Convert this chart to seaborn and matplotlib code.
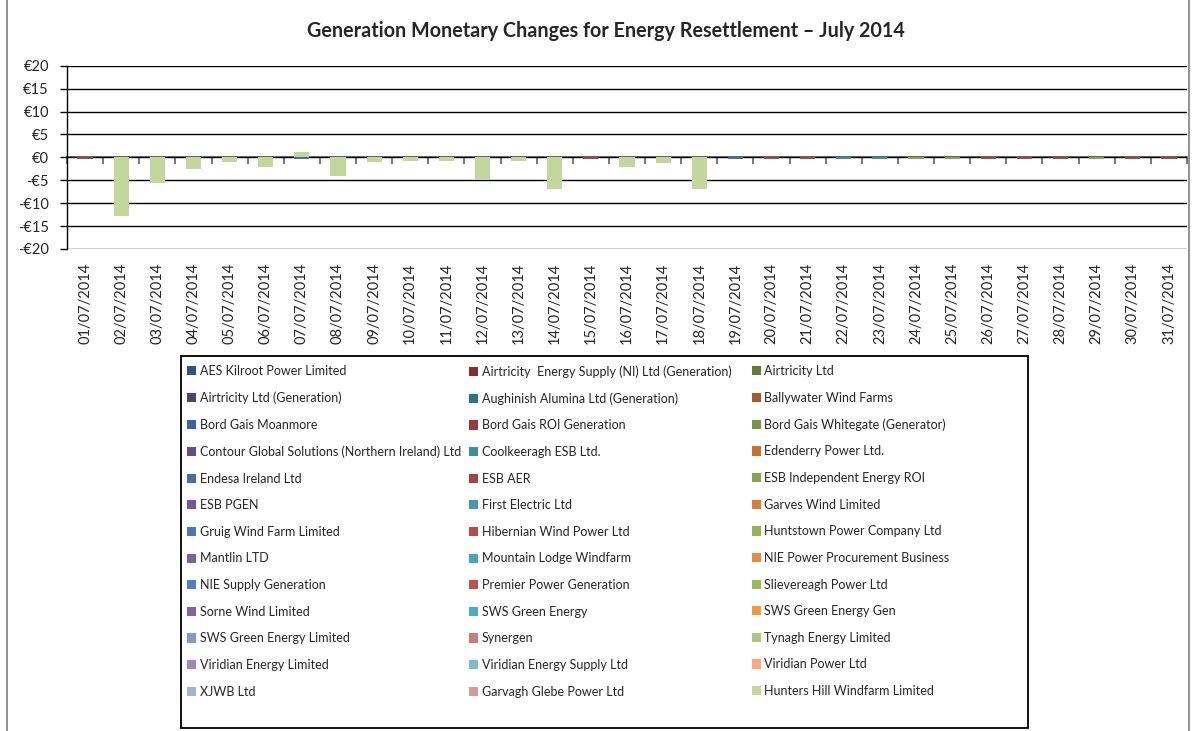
import matplotlib
matplotlib.use('Agg')
import matplotlib.pyplot as plt
import matplotlib.patches as mpatches
import seaborn as sns
import pandas as pd

# =====================================
# データ
# =====================================
dates = ['01/07/2014', '02/07/2014', '03/07/2014', '04/07/2014', '05/07/2014',
         '06/07/2014', '07/07/2014', '08/07/2014', '09/07/2014', '10/07/2014',
         '11/07/2014', '12/07/2014', '13/07/2014', '14/07/2014', '15/07/2014',
         '16/07/2014', '17/07/2014', '18/07/2014', '19/07/2014', '20/07/2014',
         '21/07/2014', '22/07/2014', '23/07/2014', '24/07/2014', '25/07/2014',
         '26/07/2014', '27/07/2014', '28/07/2014', '29/07/2014', '30/07/2014',
         '31/07/2014']

# 凡例の並び (行ごと, 3列)
companies = [
    'AES Kilroot Power Limited', 'Airtricity  Energy Supply (NI) Ltd (Generation)', 'Airtricity Ltd',
    'Airtricity Ltd (Generation)', 'Aughinish Alumina Ltd (Generation)', 'Ballywater Wind Farms',
    'Bord Gais Moanmore', 'Bord Gais ROI Generation', 'Bord Gais Whitegate (Generator)',
    'Contour Global Solutions (Northern Ireland) Ltd', 'Coolkeeragh ESB Ltd.', 'Edenderry Power Ltd.',
    'Endesa Ireland Ltd', 'ESB AER', 'ESB Independent Energy ROI',
    'ESB PGEN', 'First Electric Ltd', 'Garves Wind Limited',
    'Gruig Wind Farm Limited', 'Hibernian Wind Power Ltd', 'Huntstown Power Company Ltd',
    'Mantlin LTD', 'Mountain Lodge Windfarm', 'NIE Power Procurement Business',
    'NIE Supply Generation', 'Premier Power Generation', 'Slievereagh Power Ltd',
    'Sorne Wind Limited', 'SWS Green Energy', 'SWS Green Energy Gen',
    'SWS Green Energy Limited', 'Synergen', 'Tynagh Energy Limited',
    'Viridian Energy Limited', 'Viridian Energy Supply Ltd', 'Viridian Power Ltd',
    'XJWB Ltd', 'Garvagh Glebe Power Ltd', 'Hunters Hill Windfarm Limited',
]
company_colors = [
    '#2E5283', '#7F3030', '#637B34',
    '#56406E', '#2D7387', '#A8592A',
    '#3C6496', '#973A39', '#799544',
    '#644E82', '#3C8FA3', '#C8702E',
    '#4470A5', '#A84440', '#85A54A',
    '#735A95', '#4398AF', '#D97E38',
    '#4A78B4', '#BB4B47', '#93B455',
    '#7B61A0', '#47A7C0', '#E88A3F',
    '#4F81BD', '#C0504D', '#9BBB59',
    '#8064A2', '#4BACC6', '#F79646',
    '#7F9BC9', '#CB7B79', '#ABC67E',
    '#9E8AB8', '#7DBCD0', '#F9A878',
    '#A1B4D6', '#D79A99', '#C3D69B',
]

# 日別の金額 (€)
hunters_hill = [0, -12.8, -5.7, -2.6, -1.1, -2.2, 1.1, -4.0, -1.1, -0.9,
                -0.9, -4.8, -0.9, -7.0, 0, -2.0, -1.2, -7.0, 0, 0,
                0, 0, 0, 0, 0, 0, 0, 0, 0, 0, 0]
esb_aer = [-0.4, 0, 0, 0, 0, 0, 0, 0, 0, 0,
           0, 0, 0, 0, -0.4, 0, 0, 0, 0, -0.4,
           -0.4, 0, 0, 0, 0, -0.4, -0.4, -0.4, 0, -0.4, -0.4]
endesa = [0, 0, 0, 0, 0, 0, -0.4, 0, 0, 0,
          0, 0, 0, 0, 0, 0, 0, 0, -0.4, 0,
          0, 0, 0, 0, 0, 0, 0, 0, 0, 0, 0]
coolkeeragh = [0, 0, 0, 0, 0, 0, 0, 0, 0, 0,
               0, 0, 0, 0, 0, 0, 0, 0, 0, 0,
               0, -0.4, -0.4, 0, 0, 0, 0, 0, 0, 0, 0]
esb_independent = [0, 0, 0, 0, 0, 0, 0, 0, 0, 0,
                   0, 0, 0, 0, 0, 0, 0, 0, 0, 0,
                   0, 0, 0, -0.4, -0.4, 0, 0, 0, -0.4, 0, 0]

yticks = [-20, -15, -10, -5, 0, 5, 10, 15, 20]
ytick_labels = ['-€20', '-€15', '-€10', '-€5', '€0', '€5', '€10', '€15', '€20']

# =====================================
# 描画
# =====================================
sns.set_theme(style='white')
plt.rcParams['font.family'] = ['Lato', 'DejaVu Sans']

W, H = 1203, 731


def fx(px):
    return px / W


def fy(py):
    return 1 - py / H


series = {
    'Hunters Hill Windfarm Limited': hunters_hill,
    'ESB AER': esb_aer,
    'Endesa Ireland Ltd': endesa,
    'Coolkeeragh ESB Ltd.': coolkeeragh,
    'ESB Independent Energy ROI': esb_independent,
}
df = pd.concat([pd.DataFrame({'date': dates, 'value': v, 'company': name})
                for name, v in series.items()], ignore_index=True)
palette = dict(zip(companies, company_colors))

fig = plt.figure(figsize=(W / 100, H / 100), dpi=100)
ax = fig.add_axes([fx(67), fy(249), fx(1187) - fx(67), fy(65.7) - fy(249)])

sns.barplot(data=df, x='date', y='value', hue='company', hue_order=companies,
            order=dates, palette=palette, dodge=False, errorbar=None,
            saturation=1, width=0.42, legend=False, linewidth=0, ax=ax)

ax.set_xlim(-0.5, len(dates) - 0.5)
ax.set_ylim(-20, 20)
ax.set_yticks(yticks, labels=ytick_labels)
ax.set_xlabel('')
ax.set_ylabel('')
ax.yaxis.grid(True, color='black', linewidth=1)
ax.set_axisbelow(True)
for s in ['top', 'right', 'bottom']:
    ax.spines[s].set_visible(False)
ax.spines['left'].set_color('black')
ax.spines['left'].set_linewidth(1)
ax.tick_params(axis='y', left=True, direction='out', length=5, width=1,
               color='black', pad=8, labelsize=10.5)
ax.tick_params(axis='x', bottom=False, pad=4, labelsize=10.5)
plt.setp(ax.get_xticklabels(), rotation=90, ha='center', va='top')

# 0 の位置にある項目軸
sec = ax.secondary_xaxis(0.5)
sec.set_alignment('bottom')
sec.set_xticks([i - 0.5 for i in range(len(dates) + 1)], labels=[])
sec.tick_params(direction='out', length=5, width=1.3, color='#6e6e6e')
sec.spines['bottom'].set_color('#6e6e6e')
sec.spines['bottom'].set_linewidth(1.3)

fig.text(fx(606), fy(31), 'Generation Monetary Changes for Energy Resettlement \u2013 July 2014',
         ha='center', va='center', fontsize=14.2, fontweight='bold')

# 凡例 (3列, 列幅均等)
handles = [mpatches.Patch(facecolor=c, edgecolor='none') for c in company_colors]
col_x = [187, 469, 752]
for j in range(3):
    leg = fig.legend(handles[j::3], companies[j::3], loc='upper left',
                     bbox_to_anchor=(fx(col_x[j]), fy(365)), frameon=False,
                     fontsize=9, handlelength=0.75, handleheight=0.75,
                     handletextpad=0.25, labelspacing=1.17, borderpad=0,
                     borderaxespad=0)
fig.patches.append(mpatches.Rectangle((fx(181), fy(728)), fx(1028) - fx(181), fy(356) - fy(728),
                                      transform=fig.transFigure, fill=False,
                                      edgecolor='black', linewidth=1.3))

# グラフ全体の枠
fig.patches.append(mpatches.Rectangle((fx(7), fy(740)), fx(1189) - fx(7), fy(-10) - fy(740),
                                      transform=fig.transFigure, fill=False,
                                      edgecolor='#7f7f7f', linewidth=1.2))

fig.savefig('out.png', dpi=100)
